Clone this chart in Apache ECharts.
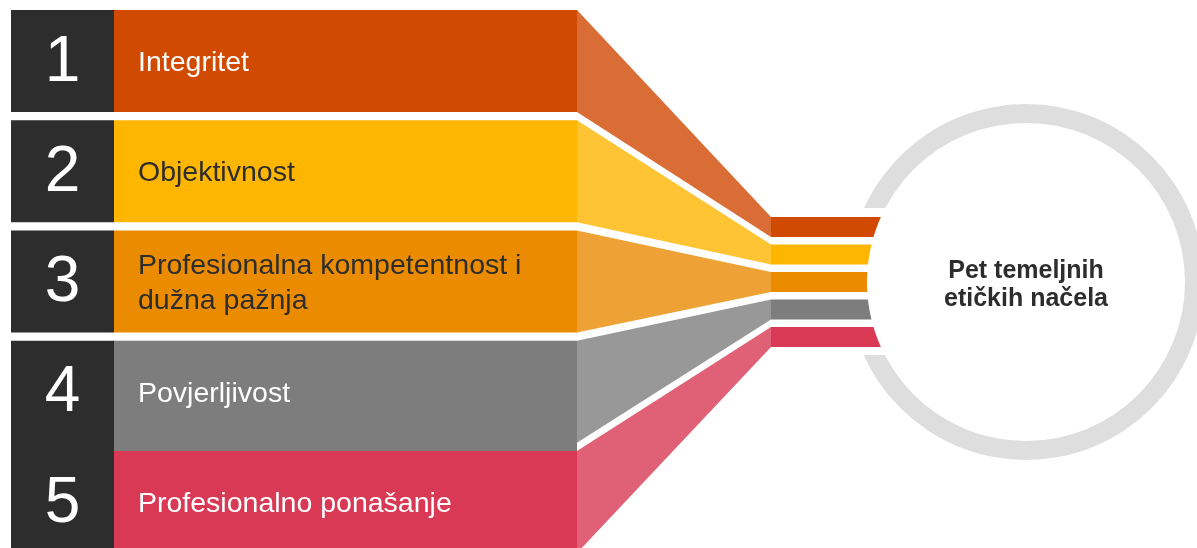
<!DOCTYPE html>
<html>
<head>
<meta charset="utf-8">
<script src="https://cdn.jsdelivr.net/npm/echarts@6/dist/echarts.min.js"></script>
<style>
  html, body { margin: 0; padding: 0; background: #fff; }
  #chart { width: 1197px; height: 548px; }
</style>
</head>
<body>
<div id="chart"></div>
<script>
// rows of the infographic
const numbers = ['1', '2', '3', '4', '5'];
const principles = [
  'Integritet',
  'Objektivnost',
  'Profesionalna kompetentnost i\ndužna pažnja',
  'Povjerljivost',
  'Profesionalno ponašanje'
];
const centerTitle = 'Pet temeljnih\netičkih načela';

// styles
const bandColors = ['#D04A02', '#FFB600', '#EB8C00', '#7D7D7D', '#D93954'];
const fanColors = ['#DA6D35', '#FFC433', '#EEA235', '#989898', '#E06075'];
const textColors = ['#FFFFFF', '#2D2D2D', '#2D2D2D', '#FFFFFF', '#FFFFFF'];
const FONT = '"Liberation Sans", Arial, sans-serif';

// circle on the right
const CX = 1026, CY = 282, R_IN = 159, R_OUT = 178;

const chart = echarts.init(document.getElementById('chart'));

function arcX(y) {
  const dy = y - CY;
  return CX - Math.sqrt(R_IN * R_IN - dy * dy);
}

function renderRow(params, api) {
  const k = api.value(1);
  const mid = api.coord([0, k])[1];
  const pitch = Math.abs(api.size([0, 1])[1]);
  const top = mid - pitch / 2;
  const h = 102;
  // no white gap between row 4 and 5
  const bandH = k === 3 ? pitch : h;
  const xDark = api.coord([11, k])[0];
  const xBand = api.coord([114, k])[0];
  const xFan = api.coord([577, k])[0];
  const xBar = api.coord([771, k])[0];

  const barTop = CY - 10 + (k - 2) * 27.5;
  const barBot = barTop + 20;
  const barPts = [[xBar, barTop]];
  for (let y = barTop; y <= barBot; y += 1) barPts.push([arcX(y), y]);
  barPts.push([xBar, barBot]);

  const cy = top + h / 2;
  return {
    type: 'group',
    children: [
      { type: 'rect', shape: { x: xDark, y: top, width: xBand - xDark, height: bandH }, style: { fill: '#2D2D2D' } },
      { type: 'rect', shape: { x: xBand, y: top, width: xFan - xBand, height: bandH }, style: { fill: bandColors[k] } },
      { type: 'polygon', shape: { points: [[xFan, top], [xBar, barTop], [xBar, barBot], [xFan, top + h]] }, style: { fill: fanColors[k] } },
      { type: 'polygon', shape: { points: barPts }, style: { fill: bandColors[k] } },
      {
        type: 'text',
        style: {
          x: (xDark + xBand) / 2, y: cy + 2, text: numbers[k],
          fill: '#FFFFFF', fontSize: 64, fontFamily: FONT,
          align: 'center', verticalAlign: 'middle'
        }
      },
      {
        type: 'text',
        style: {
          x: xBand + 24, y: cy + 2, text: principles[k],
          fill: textColors[k], fontSize: 28.5, fontFamily: FONT, lineHeight: 35,
          align: 'left', verticalAlign: 'middle'
        }
      }
    ]
  };
}

// one row = 1 unit on the y axis; the last row runs past the bottom edge
const ROW_PX = 110.25;
const option = {
  animation: false,
  grid: { left: 0, top: 10, right: 0, bottom: 0 },
  xAxis: { type: 'value', min: 0, max: 1197, show: false },
  yAxis: { type: 'value', inverse: true, min: -0.5, max: -0.5 + 538 / ROW_PX, show: false },
  graphic: [
    {
      type: 'rect', z: 5,
      shape: { x: 835, y: 208, width: 70, height: 147 },
      style: { fill: '#FFFFFF' }
    }
  ],
  series: [
    {
      type: 'pie',
      z: 1,
      silent: true,
      center: [CX, CY],
      radius: [R_IN, R_OUT],
      itemStyle: { color: '#DEDEDE' },
      emphasis: { disabled: true },
      label: {
        show: true,
        position: 'center',
        formatter: centerTitle,
        color: '#2D2D2D',
        fontSize: 25,
        fontWeight: 'bold',
        fontFamily: FONT,
        lineHeight: 28,
        offset: [0, 3]
      },
      labelLine: { show: false },
      data: [{ value: 1, name: 'ring' }]
    },
    {
      type: 'custom',
      z: 10,
      silent: true,
      clip: false,
      renderItem: renderRow,
      data: numbers.map((n, i) => [0, i])
    }
  ]
};

chart.setOption(option);
window.addEventListener('resize', () => chart.resize());
</script>
</body>
</html>
